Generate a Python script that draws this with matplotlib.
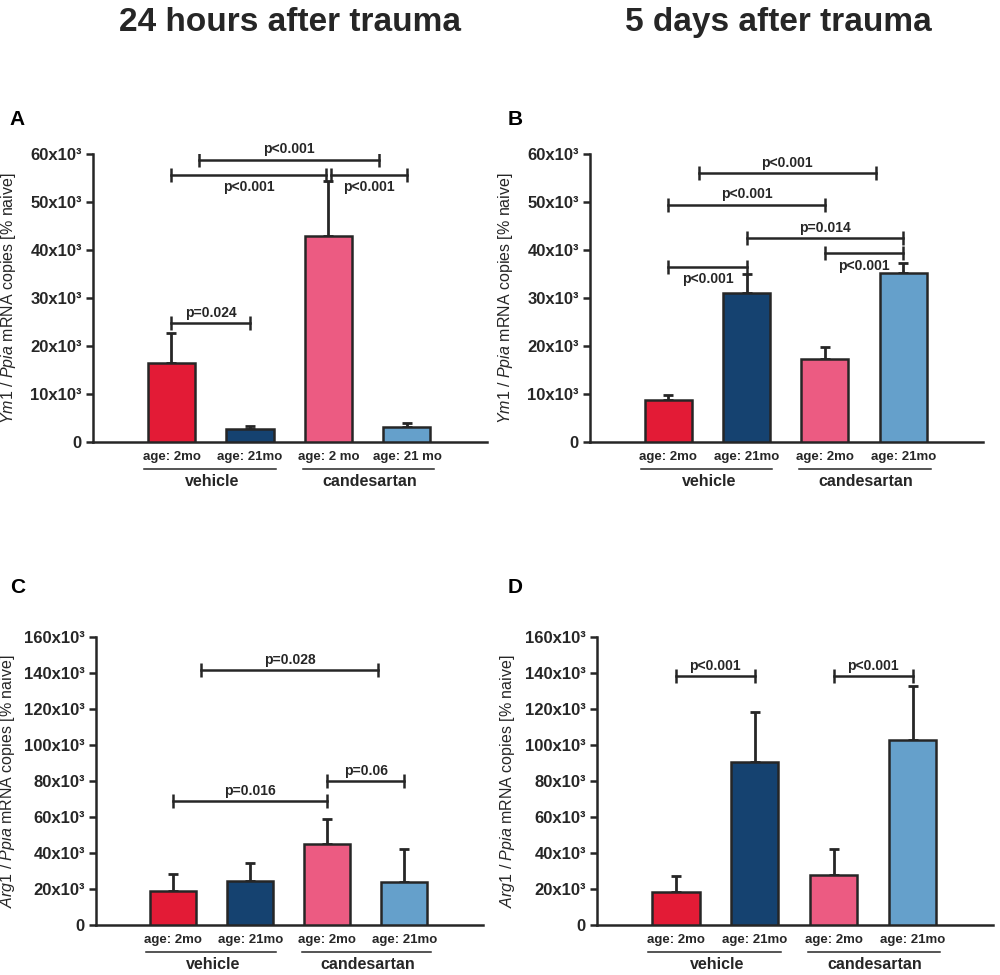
import matplotlib
matplotlib.use("Agg")
import matplotlib.pyplot as plt
from matplotlib.transforms import blended_transform_factory

plt.rcParams["font.family"] = ["Liberation Sans", "DejaVu Sans"]
plt.rcParams["mathtext.fontset"] = "custom"
plt.rcParams["mathtext.it"] = "Liberation Sans:italic"
plt.rcParams["mathtext.rm"] = "Liberation Sans"

# ── data (x10^3) ─────────────────────────────────────────────────────
groups = ["vehicle", "candesartan"]
colors = ["#E31B36", "#154270", "#EC5B82", "#65A0CB"]

ym1_24h = [16.5, 2.8, 43.0, 3.05]
ym1_24h_err = [22.6, 3.3, 54.3, 4.0]
ym1_5d = [8.7, 31.1, 17.3, 35.3]
ym1_5d_err = [9.8, 34.9, 19.7, 37.2]
arg1_24h = [19.1, 24.4, 44.8, 24.0]
arg1_24h_err = [28.1, 34.6, 58.8, 42.0]
arg1_5d = [18.1, 90.6, 27.7, 103.0]
arg1_5d_err = [27.4, 118.4, 42.0, 132.6]

ages_a = ["age: 2mo", "age: 21mo", "age: 2 mo", "age: 21 mo"]
ages = ["age: 2mo", "age: 21mo", "age: 2mo", "age: 21mo"]

# brackets: (x0, x1, height, label, label above?)
brk_a = [(0, 1, 24.7, "p=0.024", True),
         (0.35, 2.65, 58.8, "p<0.001", True),
         (0, 1.97, 55.7, "p<0.001", False),
         (2.03, 3, 55.7, "p<0.001", False)]
brk_b = [(0.39, 2.65, 56.0, "p<0.001", True),
         (0, 2, 49.4, "p<0.001", True),
         (1, 3, 42.5, "p=0.014", True),
         (2, 3, 39.3, "p<0.001", False),
         (0, 1, 36.5, "p<0.001", False)]
brk_c = [(0.36, 2.66, 141.5, "p=0.028", True),
         (2, 3, 79.9, "p=0.06", True),
         (0, 2, 68.8, "p=0.016", True)]
brk_d = [(0, 1, 138.2, "p<0.001", True),
         (2, 3, 138.2, "p<0.001", True)]

INK = "#262626"


def panel(ax, vals, errs, ymax, step, ylab, ylab_x, age_labels, brackets):
    x = range(len(vals))
    up = [e - v for v, e in zip(vals, errs)]
    ax.errorbar(x, vals, yerr=[[0] * len(vals), up], fmt="none",
                ecolor=INK, elinewidth=2, capsize=3.8, capthick=2, zorder=2)
    ax.bar(x, vals, width=0.6, color=colors, edgecolor=INK, linewidth=1.8, zorder=3)

    ax.set_xlim(-1.0, 4.02)
    ax.set_ylim(0, ymax)
    ticks = list(range(0, ymax + 1, step))
    ax.set_yticks(ticks)
    ax.set_yticklabels(["0" if t == 0 else f"{t}x10³" for t in ticks],
                       fontsize=12, fontweight="bold", color=INK)
    ax.set_xticks([])
    ax.tick_params(axis="y", direction="out", length=5, width=1.8, color=INK, pad=3)
    for s in ["top", "right"]:
        ax.spines[s].set_visible(False)
    for s in ["left", "bottom"]:
        ax.spines[s].set_linewidth(1.8)
        ax.spines[s].set_color(INK)
    ax.set_ylabel(ylab, fontsize=11.5, color=INK)
    ax.yaxis.set_label_coords(ylab_x, 0.5)

    # bracket annotations
    off = ymax * 0.012
    for x0, x1, h, lab, above in brackets:
        ax.plot([x0, x1], [h, h], color=INK, lw=1.8, zorder=4)
        ax.plot([x0, x1], [h, h], ls="none", marker="|", ms=10, mew=1.8,
                color=INK, zorder=4)
        xm = (x0 + x1) / 2
        if above:
            ax.text(xm, h + off, lab, ha="center", va="bottom", fontsize=10,
                    fontweight="bold", color=INK)
        else:
            ax.text(xm, h - off * 1.6, lab, ha="center", va="top", fontsize=10,
                    fontweight="bold", color=INK)

    # group labels under the axis
    tr = blended_transform_factory(ax.transData, ax.transAxes)
    for i, lab in enumerate(age_labels):
        ax.text(i, -0.052, lab, transform=tr, ha="center", va="center",
                fontsize=9.5, fontweight="bold", color=INK)
    for g, (a, b) in enumerate([(-0.35, 1.33), (1.67, 3.35)]):
        ax.plot([a, b], [-0.094, -0.094], transform=tr, color=INK, lw=1.1,
                clip_on=False)
        ax.text(g * 2 + 0.52, -0.136, groups[g], transform=tr, ha="center",
                va="center", fontsize=11.5, fontweight="bold", color=INK)


fig = plt.figure(figsize=(10, 9.75), dpi=100)

ax_a = fig.add_axes([0.093, 0.5467, 0.394, 0.2954])
ax_b = fig.add_axes([0.590, 0.5467, 0.393, 0.2954])
ax_c = fig.add_axes([0.096, 0.0513, 0.387, 0.2954])
ax_d = fig.add_axes([0.597, 0.0513, 0.396, 0.2954])

ym1_lab = r"$\mathit{Ym1}$ / $\mathit{Ppia}$ mRNA copies [% naive]"
arg1_lab = r"$\mathit{Arg1}$ / $\mathit{Ppia}$ mRNA copies [% naive]"

panel(ax_a, ym1_24h, ym1_24h_err, 60, 10, ym1_lab, -0.19, ages_a, brk_a)
panel(ax_b, ym1_5d, ym1_5d_err, 60, 10, ym1_lab, -0.19, ages, brk_b)
panel(ax_c, arg1_24h, arg1_24h_err, 160, 20, arg1_lab, -0.203, ages, brk_c)
panel(ax_d, arg1_5d, arg1_5d_err, 160, 20, arg1_lab, -0.203, ages, brk_d)

fig.text(0.290, 0.977, "24 hours after trauma", ha="center", va="center",
         fontsize=24, fontweight="bold", color=INK)
fig.text(0.778, 0.977, "5 days after trauma", ha="center", va="center",
         fontsize=24, fontweight="bold", color=INK)

for lab, xp, yp in [("A", 0.009, 0.877), ("B", 0.508, 0.877),
                    ("C", 0.010, 0.397), ("D", 0.508, 0.397)]:
    fig.text(xp, yp, lab, ha="left", va="center", fontsize=15,
             fontweight="heavy", color="black")

fig.savefig("out.png", dpi=100, facecolor="white")
